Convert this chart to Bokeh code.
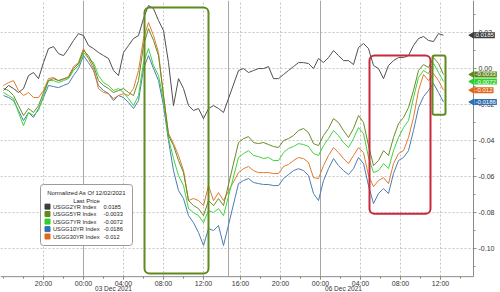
import math
from bokeh.plotting import figure
from bokeh.models import Range1d, BoxAnnotation, Label, ColumnDataSource
from bokeh.core.properties import value
from bokeh.embed import file_html
from bokeh.resources import INLINE

# ---------------- data ----------------
# trading-hour index (weekend gap removed); Dec 3 session then Dec 5/6 session
hours_dec3 = [0, 0.5, 1, 1.5, 2, 2.5, 3, 3.5, 4, 4.5, 5, 5.5, 6, 6.5, 7, 7.5, 8, 8.5,
              9, 9.5, 10, 10.5, 11, 11.5, 12, 12.5, 13, 13.5, 14, 14.5, 15, 15.5, 16,
              16.5, 17, 17.5, 18, 18.5, 19, 19.5, 20, 20.5, 21, 21.5, 22]
hours_dec6 = [23.5, 24, 24.5, 25, 25.5, 26, 26.5, 27, 27.5, 28, 28.5, 29, 29.5, 30,
              30.5, 31, 31.5, 32, 32.5, 33, 33.5, 34, 34.5, 35, 35.5, 36, 36.5, 37,
              37.5, 38, 38.5, 39, 39.5, 40, 40.5, 41, 41.5, 42, 42.5, 43, 43.5, 44]

usgg2yr = [-0.0122, -0.0094, -0.0111, -0.0133, -0.0111, -0.0039, -0.0022, -0.0056, 0.0033,
           0.0111, 0.0122, 0.0083, 0.0072, 0.0111, 0.0156, 0.0194, 0.0183, 0.0128, 0.0111,
           0.0089, 0.0072, 0.0056, -0.0011, -0.0039, 0.0089, 0.0128, 0.0167, 0.0183, 0.0278,
           0.035, 0.0333, 0.0267, 0.0211, 0.0033, -0.0206, -0.0056, -0.0111, -0.0206, -0.0233,
           -0.0222, -0.0278, -0.0222, -0.0206, -0.0222, -0.0244,
           -0.0011, 0.0, -0.0022, -0.0011, 0.0, 0.0, 0.0011, -0.0056, -0.0056, -0.0033,
           -0.0011, 0.0011, 0.0033, 0.0033, 0.0028, 0.0, 0.0056, 0.0033, 0.0061, 0.01,
           0.0072, 0.0044, 0.0044, 0.0022, 0.0117, 0.0139, 0.0111, 0.0017, 0.0, -0.0056,
           0.0017, 0.0044, 0.0061, 0.0061, 0.0072, 0.0128, 0.0167, 0.0178, 0.0156, 0.015,
           0.0194, 0.0185]

usgg5yr = [-0.0111, -0.0122, -0.015, -0.0206, -0.0261, -0.0222, -0.0244, -0.0206, -0.0133,
           -0.0067, -0.0056, -0.0067, -0.0056, -0.005, 0.0, 0.0028, 0.01, 0.0072, 0.0017,
           -0.0067, -0.0094, -0.0111, -0.0133, -0.0122, -0.0111, -0.0133, -0.015, -0.0067,
           0.0128, 0.0222, 0.0156, 0.0072, -0.015, -0.0372, -0.0428, -0.0511, -0.0578,
           -0.0733, -0.0761, -0.0778, -0.0817, -0.0733, -0.0761, -0.0722, -0.0761,
           -0.0411, -0.0389, -0.0378, -0.0411, -0.0417, -0.0411, -0.0422, -0.0433, -0.0439,
           -0.04, -0.0389, -0.0372, -0.0344, -0.0333, -0.0356, -0.0417, -0.0428, -0.0372,
           -0.0333, -0.0278, -0.03, -0.0344, -0.0383, -0.0333, -0.0261, -0.03, -0.0428,
           -0.0539, -0.0511, -0.0456, -0.0483, -0.0383, -0.0306, -0.0272, -0.0217, -0.0122,
           -0.0011, 0.0022, 0.0006, 0.0061, 0.0028, -0.0033]

usgg7yr = [-0.0133, -0.015, -0.0167, -0.0244, -0.0317, -0.0244, -0.0261, -0.0233, -0.015,
           -0.0067, -0.0067, -0.0078, -0.0067, -0.0056, -0.0011, 0.0017, 0.0089, 0.0056,
           0.0033, -0.0039, -0.0078, -0.0094, -0.0122, -0.0111, -0.0133, -0.0167, -0.0206,
           -0.015, 0.0033, 0.0111, 0.0017, -0.0039, -0.0178, -0.0389, -0.05, -0.0594, -0.065,
           -0.0778, -0.08, -0.0817, -0.0856, -0.0789, -0.08, -0.0778, -0.0817,
           -0.0494, -0.0472, -0.0456, -0.0483, -0.0489, -0.05, -0.0494, -0.0511, -0.0511,
           -0.0467, -0.0444, -0.0433, -0.0417, -0.0422, -0.0433, -0.0472, -0.0483, -0.0428,
           -0.0389, -0.0344, -0.0372, -0.0411, -0.0439, -0.0389, -0.0328, -0.0361, -0.0494,
           -0.0578, -0.0567, -0.0528, -0.0556, -0.0456, -0.0383, -0.0328, -0.0289, -0.0161,
           -0.005, -0.0011, -0.0028, 0.0028, -0.0022, -0.0072]

usgg10yr = [-0.015, -0.0161, -0.0178, -0.0233, -0.0289, -0.0244, -0.0272, -0.0222, -0.0161,
            -0.0094, -0.01, -0.0106, -0.0094, -0.0083, -0.0039, 0.0, 0.0072, 0.0033, -0.0011,
            -0.0094, -0.0122, -0.0139, -0.0178, -0.015, -0.0161, -0.0189, -0.0222, -0.0178,
            0.0, 0.0072, 0.0, -0.0067, -0.0206, -0.04, -0.0567, -0.0678, -0.0722, -0.0817,
            -0.0856, -0.0911, -0.0983, -0.0889, -0.09, -0.0872, -0.0983,
            -0.0639, -0.0622, -0.0611, -0.0633, -0.0639, -0.0644, -0.0644, -0.065, -0.065,
            -0.0611, -0.0589, -0.0567, -0.0556, -0.0567, -0.0594, -0.0694, -0.0733, -0.0622,
            -0.0556, -0.05, -0.0539, -0.0567, -0.0589, -0.0556, -0.0494, -0.0528, -0.065,
            -0.075, -0.0694, -0.0667, -0.0694, -0.0583, -0.0511, -0.0494, -0.0456, -0.0344,
            -0.0217, -0.0156, -0.0122, -0.0083, -0.0133, -0.0186]

usgg30yr = [-0.0094, -0.0078, -0.0067, -0.0122, -0.015, -0.0133, -0.0161, -0.0161, -0.0122,
            -0.0056, -0.005, -0.0067, -0.0061, -0.0044, 0.0011, 0.0033, 0.0111, 0.0056, 0.0,
            -0.0111, -0.0133, -0.0139, -0.0167, -0.015, -0.0139, -0.015, -0.0111, -0.0011,
            0.0167, 0.0256, 0.0183, 0.0089, -0.015, -0.0361, -0.0417, -0.0483, -0.0567,
            -0.0733, -0.0722, -0.0733, -0.0761, -0.065, -0.0733, -0.0689, -0.0733,
            -0.0578, -0.0556, -0.0544, -0.0567, -0.0578, -0.0578, -0.0578, -0.0583, -0.0583,
            -0.0544, -0.0533, -0.0511, -0.0494, -0.05, -0.0522, -0.0606, -0.0611, -0.0539,
            -0.0483, -0.0439, -0.0467, -0.05, -0.0528, -0.0483, -0.0439, -0.0467, -0.0594,
            -0.0656, -0.0622, -0.0606, -0.0639, -0.0528, -0.0472, -0.0456, -0.0383, -0.0272,
            -0.0122, -0.0033, -0.0067, -0.0028, -0.0067, -0.012]

series_names = ["USGG2YR Index", "USGG5YR Index", "USGG7YR Index", "USGG10YR Index", "USGG30YR Index"]
last_prices = ["0.0185", "-0.0033", "-0.0072", "-0.0186", "-0.012"]
last_values = [0.0185, -0.0033, -0.0072, -0.0186, -0.012]

x_tick_hours = [4, 8, 12, 16, 20, 23.7, 27.7, 31.7, 35.7, 39.7, 43.7]
x_tick_labels = ["20:00", "00:00", "04:00", "08:00", "12:00", "16:00",
                 "20:00", "00:00", "04:00", "08:00", "12:00"]
x_minor_hours = [0, 2, 6, 10, 14, 18, 25.7, 29.7, 33.7, 37.7, 41.7, 45.7]
day_break_hours = [8, 22.5, 31.7]
date_labels = ["03 Dec 2021", "06 Dec 2021"]
date_label_hours = [11, 34]
y_ticks = [-0.10, -0.08, -0.06, -0.04, -0.02, 0.0, 0.02]
y_tick_labels = ["-0.10", "-0.08", "-0.06", "-0.04", "-0.02", "0.00", "0.02"]
y_minor = [-0.11, -0.09, -0.07, -0.05, -0.03, -0.01, 0.01, 0.03]

# ---------------- layout constants (not data) ----------------
PXX = 0.1          # hours per pixel
PXY = 1 / 1800.0   # value per pixel
X0, XAX, X1 = -0.3, 47.0, 49.7      # left edge, right axis, canvas right edge
Y1, YAX, Y0 = 0.0378, -0.1156, -0.1244  # top, bottom axis, canvas bottom

line_colors = ["#505050", "#6a8c24", "#3fd43f", "#4a7db3", "#e27a2e"]
tag_colors = ["#3c3c3c", "#5e8a1c", "#2ccf2c", "#2f6fb3", "#e0661a"]
FONT = "Liberation Sans"
AXC = "#8a8a8a"
TXT = "#333333"

hours = hours_dec3 + hours_dec6
src = ColumnDataSource(dict(h=hours, y2=usgg2yr, y5=usgg5yr, y7=usgg7yr, y10=usgg10yr, y30=usgg30yr))

p = figure(width=500, height=292, output_backend="svg", toolbar_location=None,
           x_range=Range1d(X0, X1), y_range=Range1d(Y0, Y1),
           min_border=0, x_axis_type=None, y_axis_type=None)
p.outline_line_color = None
p.grid.visible = False
p.background_fill_color = "white"
p.border_fill_color = "white"

# grid lines (dotted) and session separators (solid)
p.segment(x0=X0, x1=XAX, y0=y_ticks, y1=y_ticks, line_color="#c4c4c4", line_dash="2 2", line_width=1)
p.segment(x0=x_tick_hours, x1=x_tick_hours, y0=YAX, y1=Y1, line_color="#c4c4c4", line_dash="2 2", line_width=1)
p.segment(x0=day_break_hours, x1=day_break_hours, y0=YAX, y1=Y1, line_color="#a6a6a6", line_width=1)

# lines
for col, c in zip(["y10", "y30", "y7", "y5", "y2"],
                  [line_colors[3], line_colors[4], line_colors[2], line_colors[1], line_colors[0]]):
    p.line("h", col, source=src, line_color=c, line_width=1)

# axes (drawn by hand so the tags can sit on them)
p.segment(x0=[X0, XAX], x1=[XAX, XAX], y0=[YAX, YAX], y1=[YAX, Y1], line_color=AXC, line_width=1)
p.segment(x0=x_tick_hours, x1=x_tick_hours, y0=YAX, y1=YAX - 3 * PXY, line_color=AXC)
p.segment(x0=x_minor_hours, x1=x_minor_hours, y0=YAX, y1=YAX - 2 * PXY, line_color=AXC)
p.segment(x0=XAX, x1=XAX + 3 * PXX, y0=y_ticks, y1=y_ticks, line_color=AXC)
p.segment(x0=XAX, x1=XAX + 2 * PXX, y0=y_minor, y1=y_minor, line_color=AXC)
p.text(x=x_tick_hours, y=YAX - 6.5 * PXY, text=x_tick_labels, text_align="center",
       text_baseline="middle", text_font=value(FONT), text_font_size="7px", text_color=TXT)
p.text(x=date_label_hours, y=YAX - 12 * PXY, text=date_labels, text_align="center",
       text_baseline="middle", text_font=value(FONT), text_font_size="6.5px", text_color=TXT)
p.text(x=XAX + 5 * PXX, y=y_ticks, text=y_tick_labels, text_align="left",
       text_baseline="middle", text_font=value(FONT), text_font_size="7px", text_color=TXT)

# highlight boxes
p.add_layout(BoxAnnotation(left=14.1, right=20.5, top=0.0339, bottom=-0.1139, fill_color=None,
                           line_color="#5f8a1e", line_alpha=1, line_width=2, border_radius=5))
p.add_layout(BoxAnnotation(left=36.6, right=42.7, top=0.0072, bottom=-0.0806, fill_color=None,
                           line_color="#c8283c", line_alpha=1, line_width=2, border_radius=5))
p.add_layout(BoxAnnotation(left=42.9, right=44.2, top=0.0072, bottom=-0.0256, fill_color=None,
                           line_color="#5f8a1e", line_alpha=1, line_width=2, border_radius=2))

# legend box
p.add_layout(BoxAnnotation(left=3.7, right=12.9, top=-0.0644, bottom=-0.0983, fill_color="white",
                           fill_alpha=1, line_color="#9a9a9a", line_alpha=1, line_width=1,
                           border_radius=3))
p.add_layout(Label(x=8.3, y=-0.0694, text="Normalized As Of 12/02/2021", text_align="center",
                   text_baseline="middle", text_font=FONT, text_font_size="6px", text_color="#222222"))
p.add_layout(Label(x=8.3, y=-0.0733, text="Last Price", text_align="center",
                   text_baseline="middle", text_font=FONT, text_font_size="6px", text_color="#222222"))
row_y = [-0.0767, -0.0808, -0.085, -0.0892, -0.0933]
for name, val, ry in zip(series_names, last_prices, row_y):
    p.add_layout(Label(x=4.95, y=ry, text=name, text_align="left", text_baseline="middle",
                       text_font=FONT, text_font_size="5.7px", text_color="#222222"))
    p.add_layout(Label(x=10.0, y=ry, text=val, text_align="left", text_baseline="middle",
                       text_font=FONT, text_font_size="5.7px", text_color="#222222"))
sq = p.scatter(x=[4.4] * 5, y=row_y, marker="square", size=5, fill_color=tag_colors,
               line_color=tag_colors)
sq.level = "overlay"

# last-price tags on the right axis
p.scatter(x=[XAX - 1.2 * PXX] * 5, y=last_values, marker="triangle", angle=math.pi / 2,
          size=6, fill_color=tag_colors, line_color=tag_colors)
for val, txt, c in zip(last_values, last_prices, tag_colors):
    p.add_layout(Label(x=XAX + 1 * PXX, y=val, text=txt, text_align="left",
                       text_baseline="middle", text_font=FONT, text_font_size="6px",
                       text_color="white", background_fill_color=c, padding=1))

open("out.html", "w").write(file_html(p, INLINE))
